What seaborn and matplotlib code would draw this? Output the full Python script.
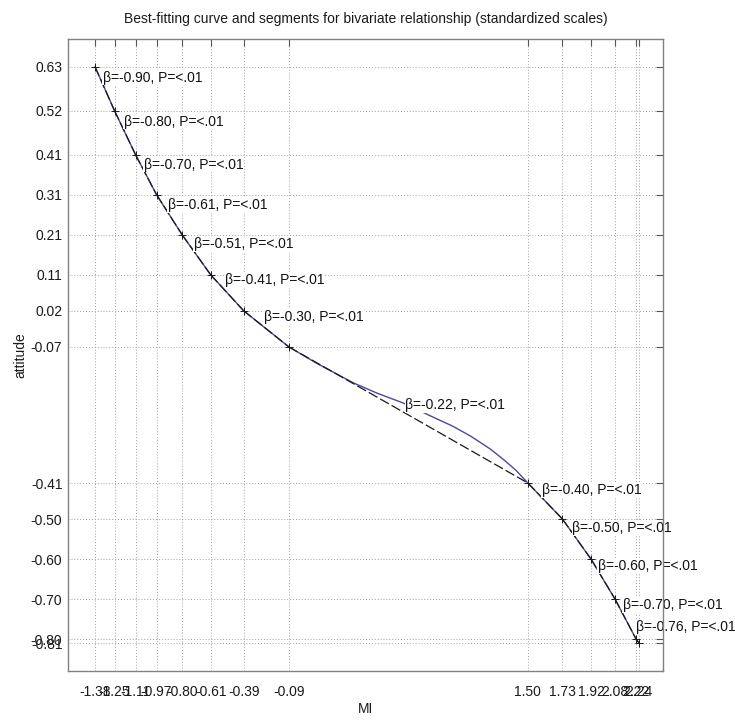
import matplotlib
matplotlib.use("Agg")
import matplotlib.pyplot as plt
from matplotlib import font_manager
import seaborn as sns
import pandas as pd

# ---------------- data ----------------
knot_x = [-1.38, -1.25, -1.11, -0.97, -0.80, -0.61, -0.39, -0.09, 1.50, 1.73, 1.92, 2.08, 2.22, 2.24]
knot_y = [0.63, 0.52, 0.41, 0.31, 0.21, 0.11, 0.02, -0.07, -0.41, -0.50, -0.60, -0.70, -0.80, -0.81]
betas = [-0.90, -0.80, -0.70, -0.61, -0.51, -0.41, -0.30, -0.22, -0.40, -0.50, -0.60, -0.70, -0.76]
p_text = "<.01"
curve_x = [-1.38, -1.25, -1.11, -0.97, -0.80, -0.61, -0.39, -0.09, 0.10, 0.34, 0.50, 0.67,
           0.85, 1.00, 1.12, 1.25, 1.34, 1.42, 1.50, 1.73, 1.92, 2.08, 2.22, 2.24]
curve_y = [0.63, 0.52, 0.41, 0.31, 0.21, 0.11, 0.02, -0.07, -0.112, -0.160, -0.186, -0.210,
           -0.242, -0.268, -0.293, -0.325, -0.352, -0.378, -0.41, -0.50, -0.60, -0.70, -0.80, -0.81]
title = "Best-fitting curve and segments for bivariate relationship (standardized scales)"
xlabel = "MI"
ylabel = "attitude"

# ---------------- style ----------------
sns.set_style("white")
names = {f.name for f in font_manager.fontManager.ttflist}
if "Liberation Sans Narrow" in names:
    fam = ["Liberation Sans Narrow", "DejaVu Sans"]
    fs = 12
    tfs = 12
else:
    fam = ["Liberation Sans", "DejaVu Sans"]
    fs = 10
    tfs = 10
plt.rcParams["font.family"] = fam

W, H = 735, 722
fig = plt.figure(figsize=(W / 100, H / 100), dpi=100)
L, R, T, B = 68, 663, 38.7, 671
ax = fig.add_axes([L / W, 1 - B / H, (R - L) / W, (B - T) / H])

# blue best-fitting curve
sns.lineplot(x=curve_x, y=curve_y, sort=False, estimator=None, ax=ax,
             color="#4a4a9c", linewidth=1.0, zorder=2)

# black dashed segments
rows = []
for i in range(len(knot_x) - 1):
    rows.append({"seg": i, "x": knot_x[i], "y": knot_y[i]})
    rows.append({"seg": i, "x": knot_x[i + 1], "y": knot_y[i + 1]})
seg_df = pd.DataFrame(rows)
sns.lineplot(data=seg_df, x="x", y="y", units="seg", estimator=None, sort=False, ax=ax,
             color="#1a1a1a", linewidth=0.9, linestyle=(0, (8, 2.5)), zorder=2.2)
sns.scatterplot(x=knot_x, y=knot_y, marker="+", color="#1a1a1a", s=40, linewidth=0.7,
                ax=ax, zorder=2.4)

# labels (offsets in pixels: +x right, +y down)
offsets = [(8, 11), (9, 11), (8, 10), (11, 10), (12, 9), (14, 5), (20, 6),
           (-3, -10), (14, 7), (10, 9), (7, 7), (8, 6), (0, -12)]
for i, b in enumerate(betas):
    if i == 7:
        ax_x = (knot_x[i] + knot_x[i + 1]) / 2
        ax_y = (knot_y[i] + knot_y[i + 1]) / 2
    else:
        ax_x, ax_y = knot_x[i], knot_y[i]
    dx, dy = offsets[i]
    ax.annotate(f"β={b:.2f}, P={p_text}", xy=(ax_x, ax_y), xytext=(dx, -dy),
                textcoords="offset pixels", ha="left", va="center", fontsize=fs,
                color="#111111", annotation_clip=False, zorder=3,
                bbox=dict(boxstyle="square,pad=0.05", fc="white", ec="none"))

# axes
ax.set_xlim(-1.5596, 2.399)
ax.set_ylim(-0.8796, 0.700)
ax.set_xticks(knot_x)
ax.set_xticklabels([f"{v:.2f}" for v in knot_x])
ax.set_yticks(knot_y)
ax.set_yticklabels([f"{v:.2f}" for v in knot_y])
ax.grid(True, linestyle=(0, (1, 2)), color="#a0a0a0", linewidth=0.7)
ax.set_axisbelow(True)
ax.tick_params(axis="both", direction="in", length=5, width=0.8, color="#555555",
               top=True, right=True, labelsize=fs, labelcolor="#1a1a1a")
ax.tick_params(axis="x", pad=10)
ax.tick_params(axis="y", pad=4)
for s in ax.spines.values():
    s.set_visible(True)
    s.set_color("#808080")
    s.set_linewidth(1.0)
    s.set_zorder(5)
ax.set_xlabel(xlabel, fontsize=fs, labelpad=2, color="#1a1a1a")
ax.set_ylabel(ylabel, fontsize=fs, labelpad=2.5, color="#1a1a1a")
ax.set_title(title, fontsize=tfs, pad=11.5, color="#1a1a1a")

fig.savefig("out.png", dpi=100)
